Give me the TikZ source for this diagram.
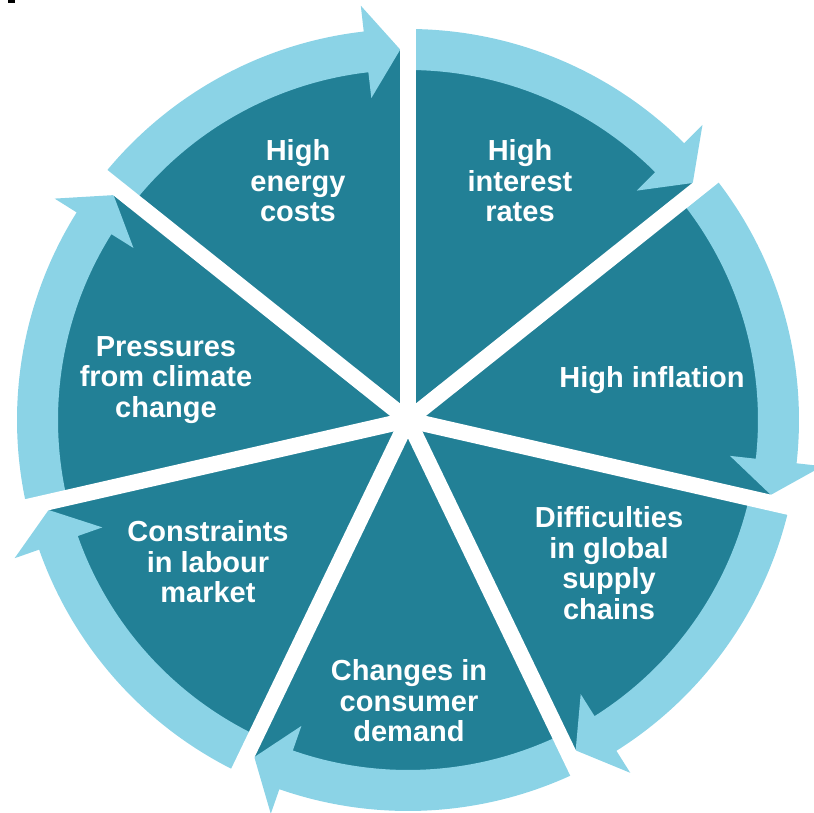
\documentclass[tikz,border=0pt]{standalone}
\usepackage{fontspec}
\setmainfont{Liberation Sans}
\definecolor{wedgeteal}{RGB}{34,128,150}
\definecolor{ringblue}{RGB}{139,211,230}

\begin{document}
\begin{tikzpicture}[x=1pt, y=1pt,
    ringarrow/.style={fill=ringblue},
    gapline/.style={draw=white, line width=16pt},
    wedgetext/.style={text=white, align=center, font=\bfseries\fontsize{29}{30.5}\selectfont}]
            \useasboundingbox (-408,-393) rectangle (406,420);
            \fill (-400,417) rectangle (-393,420);
            \fill[wedgeteal] (0,0) circle (370);
            \fill[ringarrow] (141.43:391) arc[start angle=141.43, end angle=96.5, radius=391] -- (96.5:417) -- (91.2:370.5) -- (96.5:324) -- (96.5:350) arc[start angle=96.5, end angle=141.43, radius=350] -- cycle;
            \fill[ringarrow] (90:391) arc[start angle=90, end angle=45.07, radius=391] -- (45.07:417) -- (39.77:370.5) -- (45.07:324) -- (45.07:350) arc[start angle=45.07, end angle=90, radius=350] -- cycle;
            \fill[ringarrow] (38.57:391) arc[start angle=38.57, end angle=-6.36, radius=391] -- (-6.36:417) -- (-11.66:370.5) -- (-6.36:324) -- (-6.36:350) arc[start angle=-6.36, end angle=38.57, radius=350] -- cycle;
            \fill[ringarrow] (-12.86:391) arc[start angle=-12.86, end angle=-57.79, radius=391] -- (-57.79:417) -- (-63.09:370.5) -- (-57.79:324) -- (-57.79:350) arc[start angle=-57.79, end angle=-12.86, radius=350] -- cycle;
            \fill[ringarrow] (-64.29:391) arc[start angle=-64.29, end angle=-109.21, radius=391] -- (-109.21:417) -- (-114.51:370.5) -- (-109.21:324) -- (-109.21:350) arc[start angle=-109.21, end angle=-64.29, radius=350] -- cycle;
            \fill[ringarrow] (-115.71:391) arc[start angle=-115.71, end angle=-160.64, radius=391] -- (-160.64:417) -- (-165.94:370.5) -- (-160.64:324) -- (-160.64:350) arc[start angle=-160.64, end angle=-115.71, radius=350] -- cycle;
            \fill[ringarrow] (-167.14:391) arc[start angle=-167.14, end angle=-212.07, radius=391] -- (-212.07:417) -- (-217.37:370.5) -- (-212.07:324) -- (-212.07:350) arc[start angle=-212.07, end angle=-167.14, radius=350] -- cycle;
            \draw[gapline] (0,0) -- (90:430);
            \draw[gapline] (0,0) -- (38.57:430);
            \draw[gapline] (0,0) -- (-12.86:430);
            \draw[gapline] (0,0) -- (-64.29:430);
            \draw[gapline] (0,0) -- (-115.71:430);
            \draw[gapline] (0,0) -- (-167.14:430);
            \draw[gapline] (0,0) -- (141.43:430);
            \node[wedgetext] (energy) at (-110,239) {High\\energy\\costs};
            \node[wedgetext] (interest) at (112,239) {High\\interest\\rates};
            \node[wedgetext] (inflation) at (244,40) {High inflation};
            \node[wedgetext] (supply) at (201,-143) {Difficulties\\in global\\supply\\chains};
            \node[wedgetext] (demand) at (1,-281) {Changes in\\consumer\\demand};
            \node[wedgetext] (labour) at (-200,-142) {Constraints\\in labour\\market};
            \node[wedgetext] (climate) at (-242,40) {Pressures\\from climate\\change};
        \end{tikzpicture}
\end{document}
